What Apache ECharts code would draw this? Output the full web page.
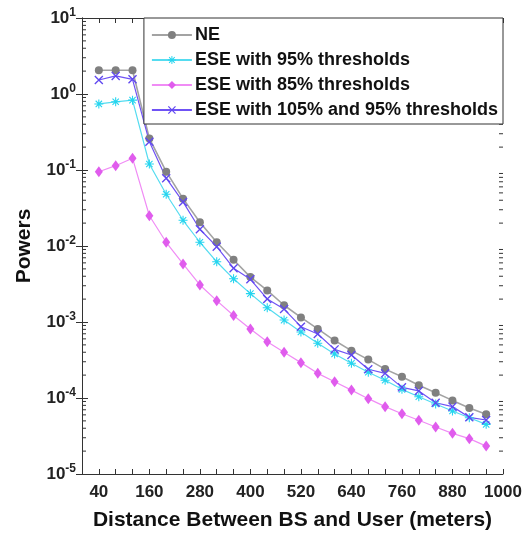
<!DOCTYPE html>
<html>
<head>
<meta charset="utf-8">
<script src="https://cdn.jsdelivr.net/npm/echarts@6/dist/echarts.min.js"></script>
<style>
html,body{margin:0;padding:0;background:#fff;}
#chart{width:525px;height:536px;}
</style>
</head>
<body>
<div id="chart"></div>
<script>
const distances = [40,80,120,160,200,240,280,320,360,400,440,480,520,560,600,640,680,720,760,800,840,880,920,960];
const xTickLabels = [40,160,280,400,520,640,760,880,1000];
const seriesNames = ['NE','ESE with 95% thresholds','ESE with 85% thresholds','ESE with 105% and 95% thresholds'];
const ne = [2.05,2.05,2.05,0.26,0.095,0.042,0.0205,0.0112,0.0066,0.0039,0.0026,0.00166,0.00115,0.00081,0.00057,0.00042,0.00032,0.00024,0.00019,0.000147,0.000117,0.000093,0.000074,0.000061];
const ese95 = [0.74,0.79,0.83,0.12,0.048,0.0218,0.0112,0.0062,0.0037,0.00236,0.00154,0.00106,0.00074,0.000525,0.00038,0.000287,0.000218,0.000171,0.00013,0.000104,0.0000834,0.0000675,0.000055,0.000045];
const ese85 = [0.095,0.114,0.143,0.025,0.0112,0.0058,0.00307,0.00191,0.00122,0.00081,0.000551,0.000399,0.000292,0.000211,0.000164,0.000127,0.000098,0.000077,0.000062,0.000051,0.0000415,0.0000343,0.0000292,0.0000233];
const ese105 = [1.53,1.73,1.56,0.235,0.078,0.038,0.0166,0.0098,0.0051,0.00365,0.00201,0.00148,0.000867,0.000695,0.000436,0.000368,0.000239,0.000211,0.000138,0.000124,0.0000867,0.000077,0.0000557,0.0000513];

const FONT = '"Liberation Sans", Arial, Helvetica, sans-serif';
const AX = '#333';

const asteriskPath = 'path://M-1.2,-10L1.2,-10L1.2,10L-1.2,10Z M-10,-1.2L10,-1.2L10,1.2L-10,1.2Z M-6.22,-7.92L7.92,6.22L6.22,7.92L-7.92,-6.22Z M-7.92,6.22L6.22,-7.92L7.92,-6.22L-6.22,7.92Z';
const crossPath = 'path://M-6.22,-7.92L7.92,6.22L6.22,7.92L-7.92,-6.22Z M-7.92,6.22L6.22,-7.92L7.92,-6.22L-6.22,7.92Z';

function pairs(arr){ return distances.map((d,i)=>[d,arr[i]]); }

// minor tick positions on the log axis (2..9 x 10^k)
const minorTicks = [];
for (let e = -5; e <= 0; e++) for (let m = 2; m <= 9; m++) minorTicks.push([0, m * Math.pow(10, e)]);

const chart = echarts.init(document.getElementById('chart'), null, {renderer:'canvas'});
const yLabel = {
  show: true, margin: 6, color: '#222',
  formatter: v => '{b|10}{e|' + Math.round(Math.log10(v)) + '}',
  rich: {
    b: {fontSize: 17, fontWeight: 'bold', fontFamily: FONT, color: '#222'},
    e: {fontSize: 12, fontWeight: 'bold', fontFamily: FONT, color: '#222', padding: [0,0,10,0]}
  }
};
const option = {
  backgroundColor: '#fff',
  animation: false,
  grid: {left: 82, right: 22, top: 18, bottom: 62, containLabel: false},
  legend: {
    data: seriesNames, orient: 'vertical', right: 22, top: 18,
    itemWidth: 40, itemHeight: 10, itemGap: 7,
    padding: [8, 5, 5, 7],
    backgroundColor: '#fff', borderColor: AX, borderWidth: 1,
    textStyle: {fontSize: 18, fontWeight: 'bold', fontFamily: FONT, color: '#111', lineHeight: 17, padding: [0, 0, 0, -2]}
  },
  xAxis: [{
    type: 'value', min: 0, max: 1000, interval: 40, position: 'bottom',
    name: 'Distance Between BS and User (meters)', nameLocation: 'middle', nameGap: 36,
    nameTextStyle: {fontSize: 21, fontWeight: 'bold', fontFamily: FONT, color: '#111'},
    axisLine: {show: true, lineStyle: {color: AX, width: 1}},
    axisTick: {show: true, inside: true, length: 5, lineStyle: {color: AX}},
    axisLabel: {margin: 10, fontSize: 17, fontWeight: 'bold', fontFamily: FONT, color: '#222',
      formatter: v => xTickLabels.indexOf(v) >= 0 ? String(v) : ''},
    splitLine: {show: false}
  },{
    type: 'value', min: 0, max: 1000, interval: 40, position: 'top',
    axisLine: {show: true, lineStyle: {color: AX, width: 1}},
    axisTick: {show: true, inside: true, length: 5, lineStyle: {color: AX}},
    axisLabel: {show: false}, splitLine: {show: false}
  }],
  yAxis: [{
    type: 'log', logBase: 10, min: 1e-5, max: 10, position: 'left',
    name: 'Powers', nameLocation: 'middle', nameGap: 47, nameRotate: 90,
    nameTextStyle: {fontSize: 21, fontWeight: 'bold', fontFamily: FONT, color: '#111'},
    axisLine: {show: true, lineStyle: {color: AX, width: 1}},
    axisTick: {show: true, inside: true, length: 6, lineStyle: {color: AX}},
    axisLabel: yLabel,
    splitLine: {show: false}
  },{
    type: 'log', logBase: 10, min: 1e-5, max: 10, position: 'right',
    axisLine: {show: true, lineStyle: {color: AX, width: 1}},
    axisTick: {show: true, inside: true, length: 6, lineStyle: {color: AX}},
    axisLabel: {show: false}, splitLine: {show: false}
  }],
  series: [
    {
      type: 'custom', silent: true, xAxisIndex: 0, yAxisIndex: 0, clip: false,
      data: minorTicks, encode: {x: 0, y: 1},
      renderItem: (params, api) => {
        const v = api.value(1);
        const pl = api.coord([0, v]);
        const pr = api.coord([1000, v]);
        return {type: 'group', children: [
          {type: 'line', shape: {x1: pl[0], y1: pl[1], x2: pl[0] + 4, y2: pl[1]}, style: {stroke: AX, lineWidth: 1}},
          {type: 'line', shape: {x1: pr[0] - 4, y1: pr[1], x2: pr[0], y2: pr[1]}, style: {stroke: AX, lineWidth: 1}}
        ]};
      }
    },
    {
      name: seriesNames[0], type: 'line', data: pairs(ne), symbol: 'circle', symbolSize: 8,
      lineStyle: {color: '#a3a3a3', width: 1.6}, itemStyle: {color: '#808080'}
    },
    {
      name: seriesNames[1], type: 'line', data: pairs(ese95), symbol: asteriskPath, symbolSize: 9,
      lineStyle: {color: '#55dcf0', width: 1.2}, itemStyle: {color: '#25d5ef'}
    },
    {
      name: seriesNames[2], type: 'line', data: pairs(ese85), symbol: 'diamond', symbolSize: [8, 11],
      lineStyle: {color: '#f08cf5', width: 1.2}, itemStyle: {color: '#e05ced'}
    },
    {
      name: seriesNames[3], type: 'line', data: pairs(ese105), symbol: crossPath, symbolSize: 9,
      lineStyle: {color: '#6f52f5', width: 1.2}, itemStyle: {color: '#6048f0'}
    }
  ]
};
chart.setOption(option);
</script>
</body>
</html>
